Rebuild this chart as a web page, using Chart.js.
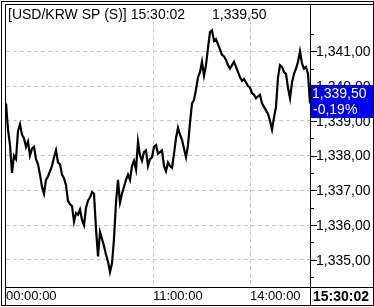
<!DOCTYPE html>
<html>
<head>
<meta charset="utf-8">
<script src="https://cdn.jsdelivr.net/npm/chart.js@4/dist/chart.umd.min.js"></script>
<style>
  html, body { margin: 0; padding: 0; background: #fff; }
  canvas { display: block; }
</style>
</head>
<body>
<canvas id="chart" width="374" height="307"></canvas>
<script>
// USD/KRW 틱 데이터 (그림에서 읽은 값, 일정 간격)
const prices = [
  1339.50, 1338.75, 1338.30, 1337.50, 1338.00, 1337.90, 1338.70, 1338.90, 1338.60, 1338.50,
  1338.25, 1338.40, 1338.00, 1338.20, 1338.25, 1337.90, 1337.75, 1337.45, 1337.10, 1336.90,
  1337.30, 1337.40, 1337.55, 1337.70, 1337.95, 1338.15, 1337.80, 1337.75, 1337.45, 1337.35,
  1337.15, 1336.70, 1336.60, 1336.55, 1336.10, 1336.35, 1336.30, 1336.45, 1336.15, 1336.00,
  1336.50, 1336.70, 1336.80, 1336.95, 1336.90, 1335.90, 1335.10, 1335.80, 1335.60, 1335.40,
  1335.15, 1334.95, 1334.65, 1334.90, 1335.60, 1336.65, 1337.30, 1336.65, 1336.90, 1337.10,
  1337.30, 1337.45, 1337.30, 1337.70, 1337.85, 1337.60, 1338.40, 1338.00, 1337.85, 1338.10,
  1338.15, 1337.70, 1337.90, 1337.95, 1338.25, 1338.30, 1338.05, 1338.10, 1338.15, 1337.70,
  1337.55, 1337.80, 1337.70, 1337.65, 1338.05, 1338.50, 1338.80, 1338.60, 1338.45, 1338.20,
  1337.95, 1338.30, 1338.95, 1339.50, 1339.60, 1339.90, 1340.25, 1340.40, 1340.70, 1340.30,
  1340.60, 1341.10, 1341.55, 1341.60, 1341.30, 1341.35, 1341.20, 1341.05, 1340.90, 1340.85,
  1340.75, 1340.60, 1340.50, 1340.60, 1340.70, 1340.55, 1340.40, 1340.25, 1340.15, 1340.20,
  1340.10, 1340.00, 1339.95, 1339.80, 1339.75, 1339.65, 1339.70, 1339.75, 1339.50, 1339.40,
  1339.30, 1339.20, 1339.00, 1338.75, 1339.10, 1339.40, 1340.25, 1340.60, 1340.55, 1340.40,
  1340.35, 1339.95, 1339.65, 1340.10, 1340.35, 1340.50, 1340.70, 1341.00, 1340.65, 1340.50,
  1340.55, 1340.35, 1339.50
];

// X축 눈금 (데이터 인덱스 위치 / 라벨)
const xTickIdx = [0, 73.5, 122];
const xTickLabels = ['00:00:00', '11:00:00', '14:00:00'];

// Y축 눈금 (정수 = 라벨 + 격자, .5 = 보조 눈금)
const yTicks = [1334.5, 1335, 1335.5, 1336, 1336.5, 1337, 1337.5, 1338, 1338.5, 1339, 1339.5, 1340, 1340.5, 1341, 1341.5];
const yMin = 1334.22;
const yMax = 1342.06;

const titleText = '[USD/KRW SP (S)] 15:30:02';
const lastTime = '15:30:02';
const changePct = '-0,19%';

// 1339.5 -> "1,339,50" 형식
function fmtPrice(v) {
    const parts = v.toFixed(2).split('.');
    const intPart = parts[0].replace(/\B(?=(\d{3})+(?!\d))/g, ',');
    return intPart + ',' + parts[1];
}

Chart.defaults.font.family = "'Liberation Sans', Arial, sans-serif";
Chart.defaults.color = '#000';

// 테두리, 가격 박스, 제목 등 그리기
const framePlugin = {
    id: 'frame',
    afterDraw(chart) {
        const ctx = chart.ctx;
        const ys = chart.scales.y;
        const last = prices[prices.length - 1];
        ctx.save();
        ctx.strokeStyle = '#000';
        ctx.lineWidth = 1;

        // 바깥 테두리 (이중선)
        ctx.strokeRect(1.5, 1.5, 372, 304);
        ctx.beginPath();
        ctx.moveTo(5.5, 305); ctx.lineTo(5.5, 4.5); ctx.lineTo(373, 4.5);
        ctx.stroke();

        // 축 선
        ctx.beginPath();
        ctx.moveTo(310.5, 4); ctx.lineTo(310.5, 305);
        ctx.moveTo(5, 287.5); ctx.lineTo(373, 287.5);
        ctx.stroke();

        // 오른쪽 축 눈금
        ctx.beginPath();
        yTicks.forEach(v => {
            const py = Math.round(ys.getPixelForValue(v)) + 0.5;
            const len = Number.isInteger(v) ? 6 : 3;
            ctx.moveTo(311, py); ctx.lineTo(311 + len, py);
        });
        ctx.stroke();

        // 현재가 박스
        const py = Math.round(ys.getPixelForValue(last));
        ctx.fillStyle = '#0000f0';
        ctx.fillRect(311, py - 18, 62, 33);
        ctx.fillStyle = '#fff';
        ctx.font = "14px 'Liberation Sans', Arial, sans-serif";
        ctx.textAlign = 'left';
        ctx.textBaseline = 'middle';
        ctx.fillText(fmtPrice(last), 312, py - 9);
        ctx.fillText(changePct, 313, py + 7);

        // 제목
        ctx.fillStyle = '#000';
        ctx.fillText(titleText, 8, 15);
        ctx.fillText(fmtPrice(last), 212, 15);

        // 마지막 시간 (굵게)
        ctx.font = "bold 14px 'Liberation Sans', Arial, sans-serif";
        ctx.fillText(lastTime, 313, 297);
        ctx.restore();
    }
};

new Chart(document.getElementById('chart'), {
    type: 'line',
    data: {
        datasets: [{
            data: prices.map((p, i) => ({ x: i, y: p })),
            borderColor: '#000',
            borderWidth: 2.2,
            borderJoinStyle: 'miter',
            pointRadius: 0,
            tension: 0
        }]
    },
    options: {
        responsive: false,
        devicePixelRatio: 1,
        animation: false,
        layout: { padding: { left: 6, top: 5, right: 0, bottom: 0 } },
        plugins: {
            legend: { display: false },
            tooltip: { enabled: false }
        },
        scales: {
            x: {
                type: 'linear',
                position: 'bottom',
                min: 0,
                max: prices.length - 1,
                afterBuildTicks: scale => { scale.ticks = xTickIdx.map(v => ({ value: v })); },
                afterFit: scale => { scale.height = 20; },
                grid: {
                    color: ctx => (ctx.tick && ctx.tick.value === 0) ? 'rgba(0,0,0,0)' : '#c8c8c8',
                    drawTicks: false
                },
                border: { display: false, dash: [4, 3] },
                ticks: {
                    align: 'start',
                    autoSkip: false,
                    maxRotation: 0,
                    padding: 2,
                    font: { size: 13 },
                    callback: v => xTickLabels[xTickIdx.indexOf(v)]
                }
            },
            y: {
                position: 'right',
                min: yMin,
                max: yMax,
                afterBuildTicks: scale => { scale.ticks = yTicks.map(v => ({ value: v })); },
                afterFit: scale => { scale.width = 64; },
                grid: {
                    color: ctx => (ctx.tick && Number.isInteger(ctx.tick.value)) ? '#c8c8c8' : 'rgba(0,0,0,0)',
                    drawTicks: false
                },
                border: { display: false, dash: [4, 3] },
                ticks: {
                    autoSkip: false,
                    padding: 6,
                    labelOffset: 1,
                    font: { size: 14 },
                    callback: v => Number.isInteger(v) ? fmtPrice(v) : ''
                }
            }
        }
    },
    plugins: [framePlugin]
});
</script>
</body>
</html>
